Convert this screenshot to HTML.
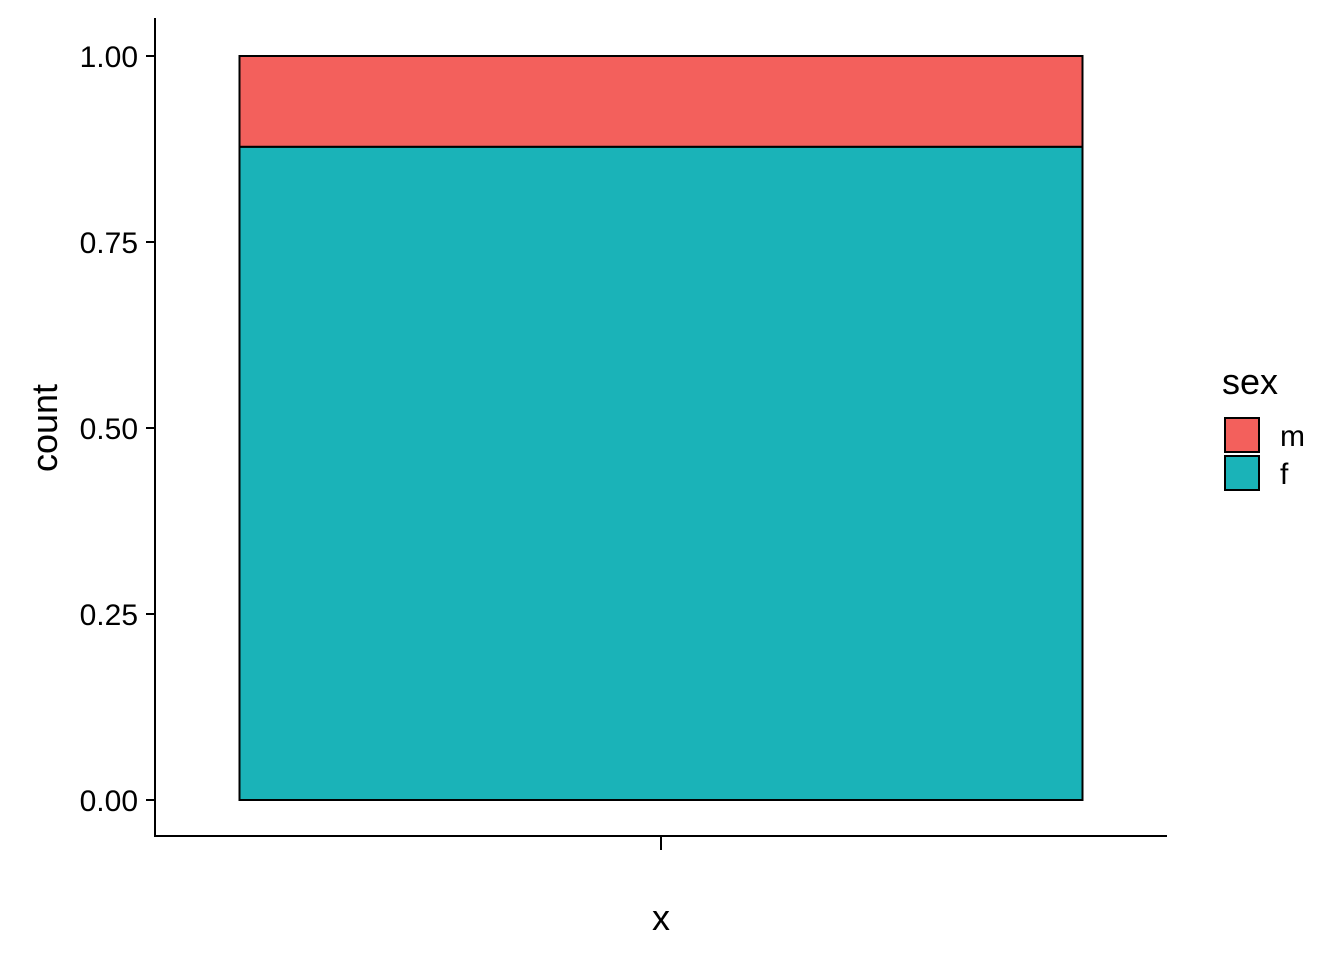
<!DOCTYPE html>
<html><head><meta charset="utf-8"><style>
html,body{margin:0;padding:0;background:#fff;}
svg{display:block;font-family:"Liberation Sans",Arial,sans-serif;}
</style></head><body>
<svg width="1344" height="960" id="chart">
</svg>
<script>
const categories = ["x"];
const seriesNames = ["m","f"];
const seriesColors = ["#F3605C","#1AB3B8"];
const valuesF = [0.878];
const valuesM = [0.122];
const yTicks = [0, 0.25, 0.5, 0.75, 1.0];
const yTickLabels = ["0.00","0.25","0.50","0.75","1.00"];

const NS = "http://www.w3.org/2000/svg";
const svg = document.getElementById('chart');
function el(t, a, p){ const e=document.createElementNS(NS,t); for(const k in a) e.setAttribute(k,a[k]); (p||svg).appendChild(e); return e; }
const y = v => 800 - v*744;
const xL = 155, xR = 1167, yB = 836;
const bandW = (xR - xL) / categories.length;
const xC = i => xL + bandW*(i+0.5);
const barW = 843;

categories.forEach((c,i)=>{
  const x0 = xC(i) - barW/2;
  const f = el('rect',{x:x0,y:y(valuesF[i]),width:barW,height:y(0)-y(valuesF[i]),fill:seriesColors[1],stroke:'#000','stroke-width':2});
  
  
  const top = valuesF[i]+valuesM[i];
  const m = el('rect',{x:x0,y:y(top),width:barW,height:y(valuesF[i])-y(top),fill:seriesColors[0],stroke:'#000','stroke-width':2});
  
  
  const t = el('line',{x1:xC(i),x2:xC(i),y1:yB,y2:yB+14,stroke:'#000','stroke-width':2});
  
  
});

const ya = el('line',{x1:xL,x2:xL,y1:18,y2:yB+1,stroke:'#000','stroke-width':2});


const xa = el('line',{x1:xL-1,x2:xR,y1:yB,y2:yB,stroke:'#000','stroke-width':2});



yTicks.forEach((v,i)=>{
  const t = el('line',{x1:xL-9,x2:xL,y1:y(v),y2:y(v),stroke:'#000','stroke-width':2});
  
  
  const l = el('text',{x:138,y:y(v)+11,'text-anchor':'end','font-size':30,fill:'#000'});
  l.textContent = yTickLabels[i];
  
  
});

const xt = el('text',{x:661,y:930,'text-anchor':'middle','font-size':36,fill:'#000'});
xt.textContent='x';


const yt = el('text',{x:0,y:0,'text-anchor':'middle','font-size':36,fill:'#000',transform:'translate(57,428) rotate(-90)'});
yt.textContent='count';



const lt = el('text',{x:1222,y:394,'font-size':36,fill:'#000'});
lt.textContent='sex';


seriesNames.forEach((n,i)=>{
  const yy = 418 + i*38;
  const r = el('rect',{x:1225,y:yy,width:34,height:34,fill:seriesColors[i],stroke:'#000','stroke-width':2});
  
  
  const t = el('text',{x:1280,y:yy+28,'font-size':30,fill:'#000'});
  t.textContent=n;
  
  
});
</script>
</body></html>
